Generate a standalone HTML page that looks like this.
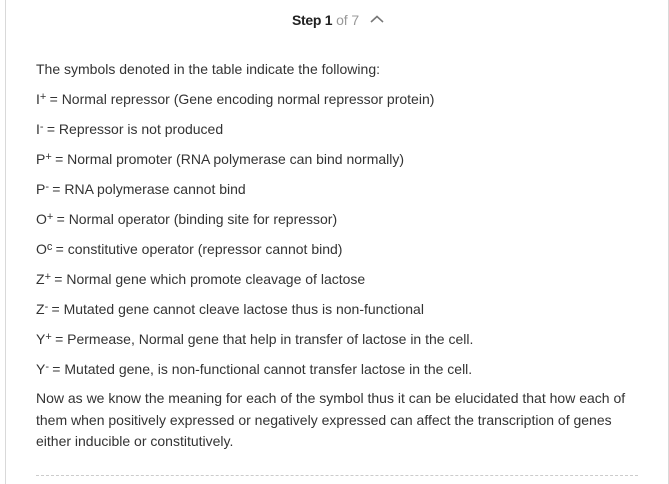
<!DOCTYPE html>
<html>
<head>
<meta charset="utf-8">
<style>
html,body{margin:0;padding:0;background:#fff}
#p{position:relative;width:669px;height:484px;overflow:hidden;background:#fff;font-family:"Liberation Sans",Arial,sans-serif;font-size:14px;color:#333}
.b{position:absolute;top:0;width:1px;height:484px;background:#d9d9d9}
.t{position:absolute;left:36px;white-space:nowrap;line-height:20px;height:20px}
sup{font-size:11px;line-height:0;vertical-align:baseline;position:relative;top:-4px;margin-right:-0.6px}
.h{position:absolute;top:10px;left:292px;line-height:20px;white-space:nowrap;color:#999}
.h b{color:#222;letter-spacing:-0.3px}
.h span{letter-spacing:-0.1px}
.d{position:absolute;left:36px;top:475px;width:602px;border-top:1px dashed #ccc}
</style>
</head>
<body>
<div id="p">
<div class="b" style="left:5px"></div>
<div class="b" style="left:668px"></div>
<div class="h"><b>Step 1</b> <span>of 7</span></div>
<svg style="position:absolute;left:369px;top:14px" width="16" height="10"><path d="M2 8L8 2.5L14 8" fill="none" stroke="#777" stroke-width="1.6"/></svg>
<div class="t" style="top:59px">The symbols denoted in the table indicate the following:</div>
<div class="t" style="top:89px">I<sup>+</sup> = Normal repressor (Gene encoding normal repressor protein)</div>
<div class="t" style="top:119px">I<sup>-</sup> = Repressor is not produced</div>
<div class="t" style="top:149px">P<sup>+</sup> = Normal promoter (RNA polymerase can bind normally)</div>
<div class="t" style="top:179px">P<sup>-</sup> = RNA polymerase cannot bind</div>
<div class="t" style="top:209px">O<sup>+</sup> = Normal operator (binding site for repressor)</div>
<div class="t" style="top:239px">O<sup>c</sup> = constitutive operator (repressor cannot bind)</div>
<div class="t" style="top:269px">Z<sup>+</sup> = Normal gene which promote cleavage of lactose</div>
<div class="t" style="top:299px">Z<sup>-</sup> = Mutated gene cannot cleave lactose thus is non-functional</div>
<div class="t" style="top:329px">Y<sup>+</sup> = Permease, Normal gene that help in transfer of lactose in the cell.</div>
<div class="t" style="top:359px">Y<sup>-</sup> = Mutated gene, is non-functional cannot transfer lactose in the cell.</div>
<div class="t" style="top:388px">Now as we know the meaning for each of the symbol thus it can be elucidated that how each of</div>
<div class="t" style="top:410px">them when positively expressed or negatively expressed can affect the transcription of genes</div>
<div class="t" style="top:431px">either inducible or constitutively.</div>
<div class="d"></div>
</div>
</body>
</html>
